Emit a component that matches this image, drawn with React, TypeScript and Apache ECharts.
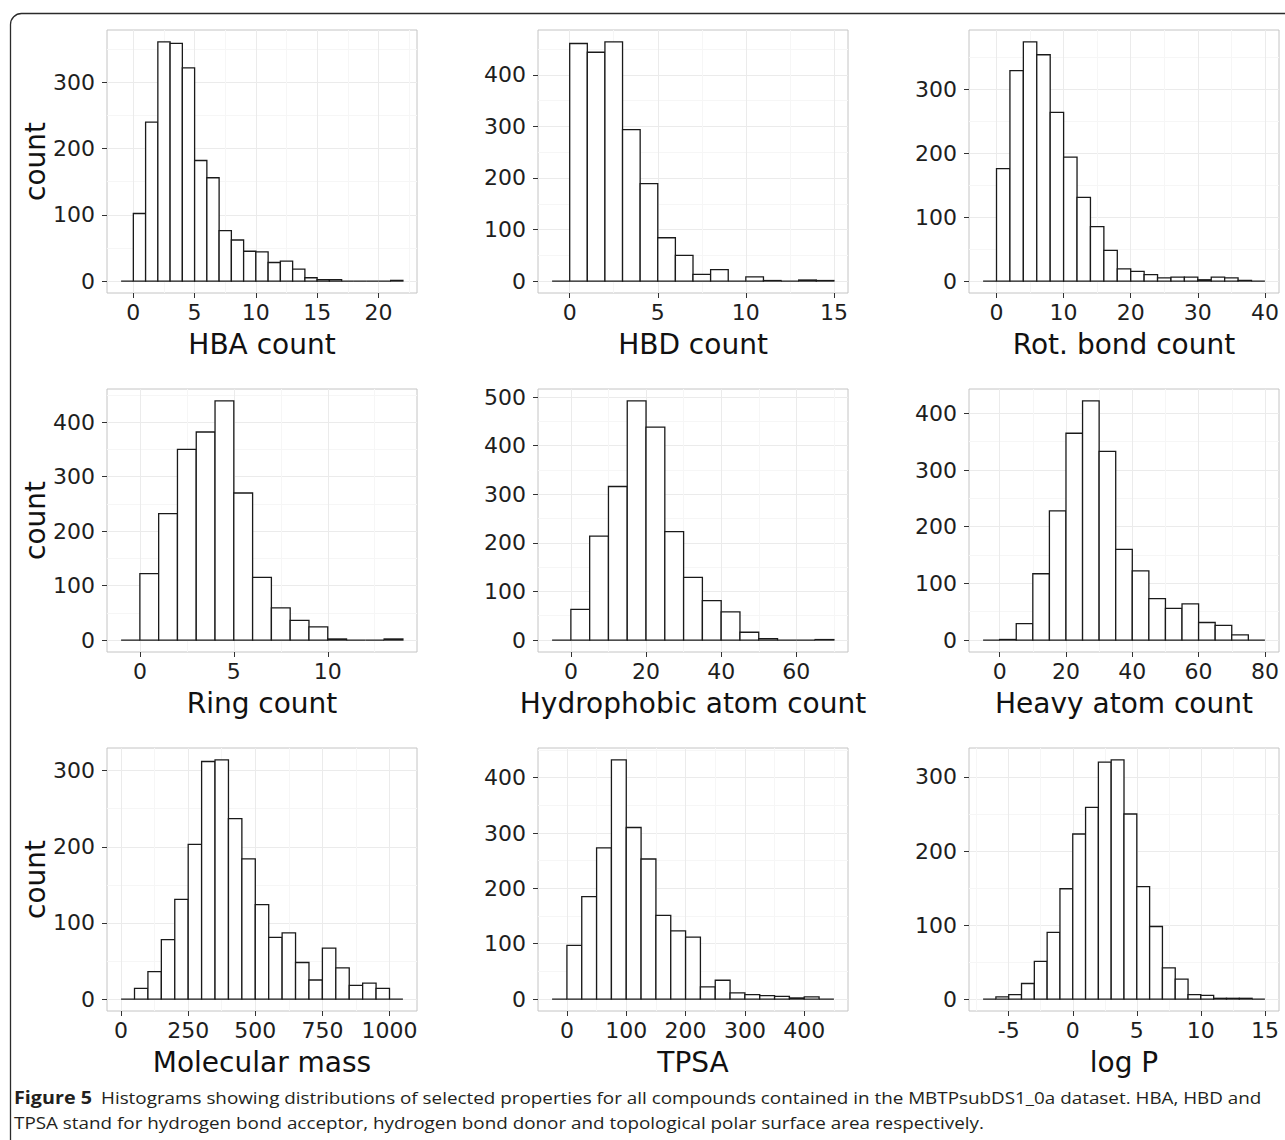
import React, { useEffect, useRef } from 'react';
import * as echarts from 'echarts';

// ---- data (bin start, bin width, counts per bin) ----
const hbaStart = -1;
const hbaWidth = 1;
const hbaCounts = [0, 102, 240, 361, 359, 322, 182, 156, 76, 62, 45, 44, 28, 30, 18, 5, 2, 2, 0, 0, 0, 0, 1];
const hbaXTicks = [0, 5, 10, 15, 20];
const hbaYTicks = [0, 100, 200, 300];

const hbdStart = -1;
const hbdWidth = 1;
const hbdCounts = [0, 461, 444, 464, 294, 189, 84, 50, 13, 22, 0, 8, 1, 0, 2, 1];
const hbdXTicks = [0, 5, 10, 15];
const hbdYTicks = [0, 100, 200, 300, 400];

const rotStart = -2;
const rotWidth = 2;
const rotCounts = [0, 176, 329, 374, 354, 264, 194, 131, 85, 48, 19, 15, 10, 5, 6, 6, 2, 6, 5, 1, 0];
const rotXTicks = [0, 10, 20, 30, 40];
const rotYTicks = [0, 100, 200, 300];

const ringStart = -1;
const ringWidth = 1;
const ringCounts = [0, 122, 232, 350, 382, 439, 270, 115, 59, 36, 24, 2, 0, 0, 2];
const ringXTicks = [0, 5, 10];
const ringYTicks = [0, 100, 200, 300, 400];

const hydStart = -5;
const hydWidth = 5;
const hydCounts = [0, 63, 214, 316, 492, 438, 223, 129, 81, 58, 16, 3, 0, 0, 1];
const hydXTicks = [0, 20, 40, 60];
const hydYTicks = [0, 100, 200, 300, 400, 500];

const heavyStart = -5;
const heavyWidth = 5;
const heavyCounts = [0, 1, 29, 117, 228, 365, 422, 333, 160, 122, 73, 56, 64, 31, 26, 9, 0];
const heavyXTicks = [0, 20, 40, 60, 80];
const heavyYTicks = [0, 100, 200, 300, 400];

const massStart = 0;
const massWidth = 50;
const massCounts = [0, 14, 36, 78, 131, 203, 312, 314, 237, 184, 124, 81, 87, 48, 25, 67, 41, 18, 21, 14, 0];
const massXTicks = [0, 250, 500, 750, 1000];
const massYTicks = [0, 100, 200, 300];

const tpsaStart = -25;
const tpsaWidth = 25;
const tpsaCounts = [0, 97, 185, 273, 432, 310, 253, 151, 123, 112, 22, 34, 11, 8, 6, 5, 2, 4, 0];
const tpsaXTicks = [0, 100, 200, 300, 400];
const tpsaYTicks = [0, 100, 200, 300, 400];

const logpStart = -7;
const logpWidth = 1;
const logpCounts = [0, 3, 6, 21, 51, 90, 149, 223, 259, 320, 323, 250, 152, 98, 42, 27, 6, 5, 1, 1, 1, 0];
const logpXTicks = [-5, 0, 5, 10, 15];
const logpYTicks = [0, 100, 200, 300];

const titles = [
  'HBA count', 'HBD count', 'Rot. bond count',
  'Ring count', 'Hydrophobic atom count', 'Heavy atom count',
  'Molecular mass', 'TPSA', 'log P',
];

const captionBold = 'Figure 5';
const captionLine1 = 'Histograms showing distributions of selected properties for all compounds contained in the MBTPsubDS1_0a dataset. HBA, HBD and';
const captionLine2 = 'TPSA stand for hydrogen bond acceptor, hydrogen bond donor and topological polar surface area respectively.';

const panels = [
  { start: hbaStart, width: hbaWidth, counts: hbaCounts, xTicks: hbaXTicks, yTicks: hbaYTicks },
  { start: hbdStart, width: hbdWidth, counts: hbdCounts, xTicks: hbdXTicks, yTicks: hbdYTicks },
  { start: rotStart, width: rotWidth, counts: rotCounts, xTicks: rotXTicks, yTicks: rotYTicks },
  { start: ringStart, width: ringWidth, counts: ringCounts, xTicks: ringXTicks, yTicks: ringYTicks },
  { start: hydStart, width: hydWidth, counts: hydCounts, xTicks: hydXTicks, yTicks: hydYTicks },
  { start: heavyStart, width: heavyWidth, counts: heavyCounts, xTicks: heavyXTicks, yTicks: heavyYTicks },
  { start: massStart, width: massWidth, counts: massCounts, xTicks: massXTicks, yTicks: massYTicks },
  { start: tpsaStart, width: tpsaWidth, counts: tpsaCounts, xTicks: tpsaXTicks, yTicks: tpsaYTicks },
  { start: logpStart, width: logpWidth, counts: logpCounts, xTicks: logpXTicks, yTicks: logpYTicks },
];

// ---- layout ----
const W = 1285;
const H = 1140;
const colLeft = [107, 538, 969];
const rowTop = [30, 389, 748];
const panelW = 310;
const panelH = 263;
const FONT = '"DejaVu Sans", Verdana, sans-serif';
const CAP_FONT = '"Open Sans", "Noto Sans", sans-serif';
const CAP_SIZE = 17;

function minorValues(ticks: number[], min: number, max: number) {
  const d = ticks[1] - ticks[0];
  const ext = [ticks[0] - d, ...ticks, ticks[ticks.length - 1] + d];
  const out: number[] = [];
  for (let i = 0; i < ext.length - 1; i++) out.push((ext[i] + ext[i + 1]) / 2);
  return out.filter((v) => v > min && v < max);
}

const plain = (v: number) => String(v);

function buildOption() {
  const grids: any[] = [];
  const xAxes: any[] = [];
  const yAxes: any[] = [];
  const series: any[] = [];

  panels.forEach((p, i) => {
    const row = Math.floor(i / 3);
    const col = i % 3;
    const n = p.counts.length;
    const x0 = p.start;
    const x1 = p.start + n * p.width;
    const xr = x1 - x0;
    const xmin = x0 - 0.05 * xr;
    const xmax = x1 + 0.05 * xr;
    const cmax = Math.max(...p.counts);
    const ymin = -0.05 * cmax;
    const ymax = 1.05 * cmax;

    grids.push({
      left: colLeft[col],
      top: rowTop[row],
      width: panelW,
      height: panelH,
      containLabel: false,
      outerBoundsMode: 'none',
      show: true,
      backgroundColor: '#ffffff',
      borderColor: '#c4c4c4',
      borderWidth: 1,
    });

    xAxes.push({
      type: 'value',
      gridIndex: i,
      position: 'bottom',
      min: xmin,
      max: xmax,
      name: titles[i],
      nameLocation: 'middle',
      nameGap: 36,
      nameMoveOverlap: false,
      nameTextStyle: { fontFamily: FONT, fontSize: 28, color: '#111', lineHeight: 30 },
      axisLine: { show: false, onZero: false },
      axisTick: { show: true, length: 5, lineStyle: { color: '#333', width: 1 }, customValues: p.xTicks },
      axisLabel: { show: true, margin: 8, fontFamily: FONT, fontSize: 22, lineHeight: 22, color: '#1e1e1e', customValues: p.xTicks, formatter: plain },
      splitLine: { show: true, lineStyle: { color: '#ebebeb', width: 1 } },
    });
    xAxes.push({
      type: 'value',
      gridIndex: i,
      position: 'top',
      min: xmin,
      max: xmax,
      axisLine: { show: false, onZero: false },
      axisTick: { show: false, customValues: minorValues(p.xTicks, xmin, xmax) },
      axisLabel: { show: false, customValues: minorValues(p.xTicks, xmin, xmax) },
      splitLine: { show: true, lineStyle: { color: '#f6f6f6', width: 1 } },
    });

    yAxes.push({
      type: 'value',
      gridIndex: i,
      position: 'left',
      min: ymin,
      max: ymax,
      name: col === 0 ? 'count' : '',
      nameLocation: 'middle',
      nameRotate: 90,
      nameGap: 57,
      nameMoveOverlap: false,
      nameTextStyle: { fontFamily: FONT, fontSize: 28, color: '#111', lineHeight: 30 },
      axisLine: { show: false, onZero: false },
      axisTick: { show: true, length: 5, lineStyle: { color: '#333', width: 1 }, customValues: p.yTicks },
      axisLabel: { show: true, margin: 12, fontFamily: FONT, fontSize: 22, lineHeight: 22, color: '#1e1e1e', customValues: p.yTicks, formatter: plain },
      splitLine: { show: true, lineStyle: { color: '#ebebeb', width: 1 } },
    });
    yAxes.push({
      type: 'value',
      gridIndex: i,
      position: 'right',
      min: ymin,
      max: ymax,
      axisLine: { show: false, onZero: false },
      axisTick: { show: false, customValues: minorValues(p.yTicks, ymin, ymax) },
      axisLabel: { show: false, customValues: minorValues(p.yTicks, ymin, ymax) },
      splitLine: { show: true, lineStyle: { color: '#f6f6f6', width: 1 } },
    });

    const data = p.counts.map((c, k) => [p.start + k * p.width, p.start + (k + 1) * p.width, c]);

    series.push({
      type: 'custom',
      xAxisIndex: i * 2,
      yAxisIndex: i * 2,
      clip: false,
      encode: { x: [0, 1], y: 2 },
      data,
      renderItem: (params: any, api: any) => {
        const a = api.coord([api.value(0), 0]);
        const b = api.coord([api.value(1), api.value(2)]);
        return {
          type: 'polygon',
          shape: { points: [[a[0], a[1]], [a[0], b[1]], [b[0], b[1]], [b[0], a[1]]] },
          style: { fill: '#ffffff', stroke: '#1a1a1a', lineWidth: 1.3 },
        };
      },
    });
  });

  // caption sizing: condense the text horizontally to span the measured width
  let sx = 0.8;
  let boldSx = 0.8;
  try {
    const ctx = document.createElement('canvas').getContext('2d');
    if (ctx) {
      ctx.font = `${CAP_SIZE}px ${CAP_FONT}`;
      const w1 = ctx.measureText(captionLine1).width;
      if (w1 > 0) sx = (1262 - 101) / w1;
      ctx.font = `bold ${CAP_SIZE}px ${CAP_FONT}`;
      const wb = ctx.measureText(captionBold).width;
      if (wb > 0) boldSx = (92 - 14) / wb;
    }
  } catch (e) {
    // keep defaults
  }

  const graphic: any[] = [
    {
      type: 'rect',
      shape: { x: 10.5, y: 13.5, width: 1400, height: 1400, r: 11 },
      style: { fill: 'none', stroke: '#2b2b2b', lineWidth: 1.3 },
      silent: true,
      z: 100,
    },
    {
      type: 'text',
      x: 14,
      y: 1097,
      scaleX: boldSx,
      style: { text: captionBold, fontFamily: CAP_FONT, fontWeight: 'bold', fontSize: CAP_SIZE, fill: '#231f20', verticalAlign: 'middle', align: 'left' },
      z: 100,
    },
    {
      type: 'text',
      x: 101,
      y: 1097,
      scaleX: sx,
      style: { text: captionLine1, fontFamily: CAP_FONT, fontSize: CAP_SIZE, fill: '#231f20', verticalAlign: 'middle', align: 'left' },
      z: 100,
    },
    {
      type: 'text',
      x: 14,
      y: 1122,
      scaleX: sx,
      style: { text: captionLine2, fontFamily: CAP_FONT, fontSize: CAP_SIZE, fill: '#231f20', verticalAlign: 'middle', align: 'left' },
      z: 100,
    },
  ];

  return {
    animation: false,
    backgroundColor: '#ffffff',
    grid: grids,
    xAxis: xAxes,
    yAxis: yAxes,
    series,
    graphic,
  };
}

export default function App() {
  const ref = useRef<HTMLDivElement>(null);
  useEffect(() => {
    if (!ref.current) return;
    const chart = echarts.init(ref.current, undefined, { renderer: 'svg', width: W, height: H });
    chart.setOption(buildOption() as any);
    return () => chart.dispose();
  }, []);
  return (
    <div
      ref={ref}
      style={{ position: 'absolute', left: 0, top: 0, width: W, height: H, background: '#fff' }}
    />
  );
}
